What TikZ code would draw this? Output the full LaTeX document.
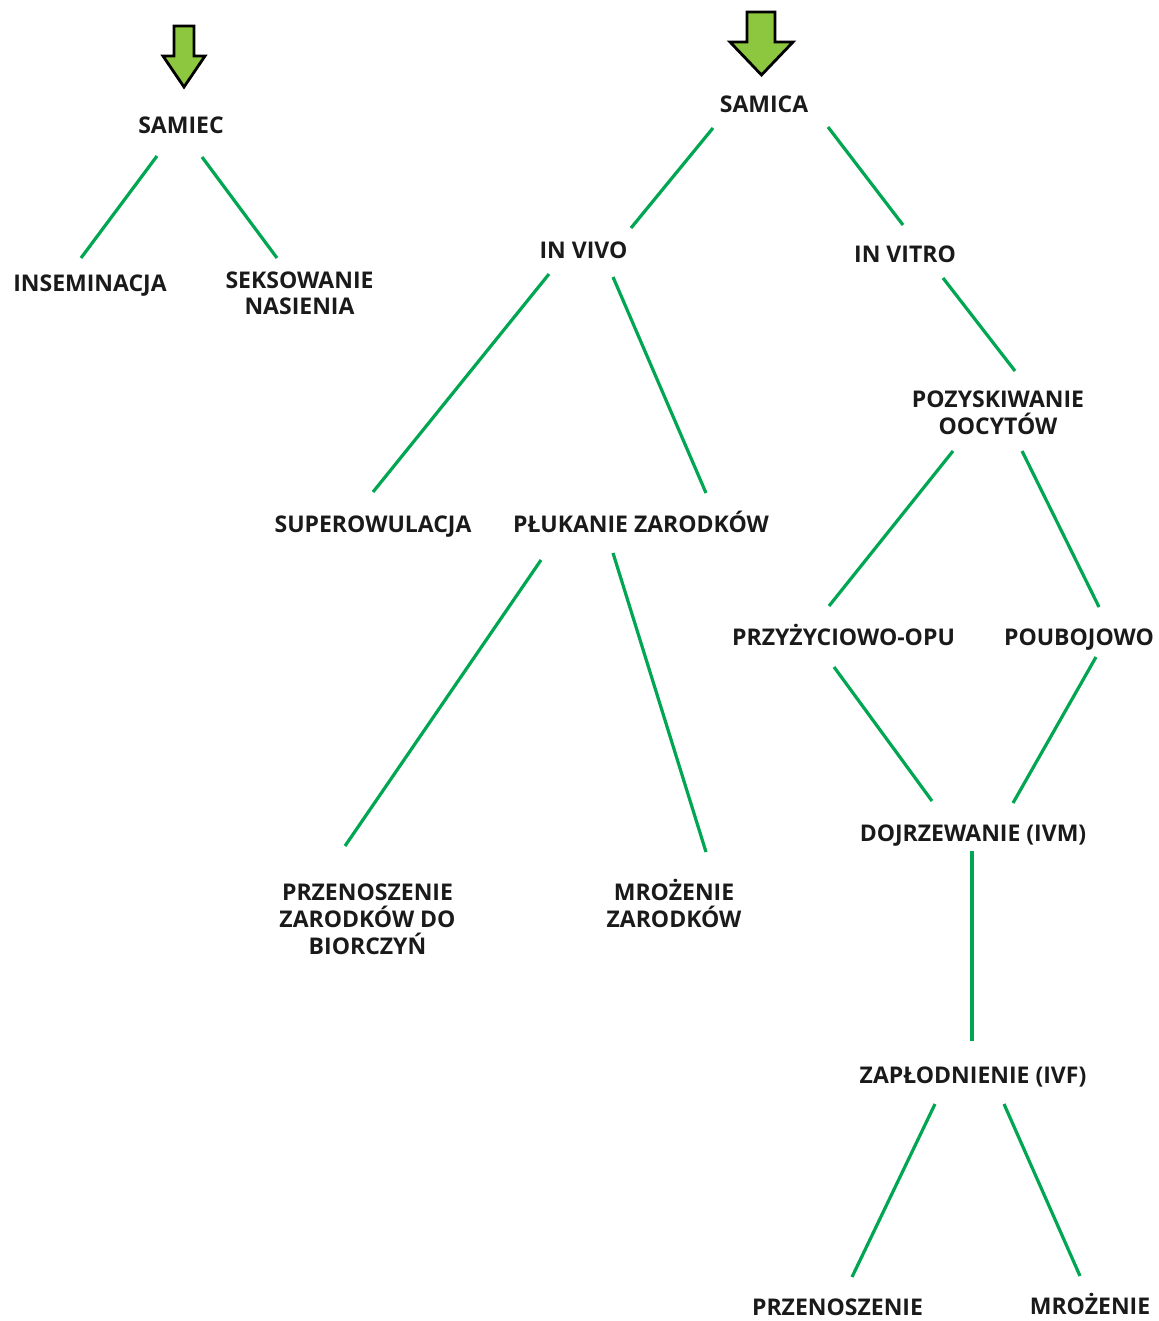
\documentclass[tikz,border=0pt]{standalone}
\usepackage{fontspec}
\setmainfont{Open Sans}
\usepackage{tikz}
\usetikzlibrary{calc}

\definecolor{linegreen}{HTML}{00A651}
\definecolor{arrowgreen}{HTML}{8DC63F}
\definecolor{txt}{HTML}{1A1A1A}

\begin{document}
\begin{tikzpicture}[
        x=1pt, y=-1pt,
        lbl/.style={inner sep=0pt, anchor=base, align=center, text=txt,
            font=\fontsize{23}{27}\selectfont\bfseries},
        link/.style={draw=linegreen, line width=3.2pt},
        pointer/.style={draw=black, fill=arrowgreen, line width=2.8pt, line join=miter}
    ]
        \useasboundingbox (0,0) rectangle (1158,1321);

        % entry arrows
        \draw[pointer] (174,26) -- (194,26) -- (194,56) -- (205,56) -- (184,87) -- (163,56) -- (174,56) -- cycle;
        \draw[pointer] (747,12) -- (775,12) -- (775,42) -- (793,42) -- (761.5,75) -- (730,42) -- (747,42) -- cycle;

        \node[lbl] (samiec) at (181,134) {SAMIEC};
        \node[lbl] (insem) at (90,291) {INSEMINACJA};
        \node[lbl] (seks) at (299.5,315) {SEKSOWANIE\\NASIENIA};

        \node[lbl] (samica) at (764,113) {SAMICA};
        \node[lbl] (invivo) at (583.5,259) {IN VIVO};
        \node[lbl] (invitro) at (905,263) {IN VITRO};
        \node[lbl] (superow) at (373,532) {SUPEROWULACJA};
        \node[lbl] (plukanie) at (641,532) {PŁUKANIE ZARODKÓW};
        \node[lbl] (przen) at (367.5,954) {PRZENOSZENIE\\ZARODKÓW DO\\BIORCZYŃ};
        \node[lbl] (mroz) at (674,927) {MROŻENIE\\ZARODKÓW};

        \node[lbl] (pozysk) at (998,434) {POZYSKIWANIE\\OOCYTÓW};
        \node[lbl] (przyz) at (843.5,645) {PRZYŻYCIOWO-OPU};
        \node[lbl] (pouboj) at (1079,645) {POUBOJOWO};
        \node[lbl] (dojrz) at (973,841) {DOJRZEWANIE (IVM)};
        \node[lbl] (zapl) at (973,1083) {ZAPŁODNIENIE (IVF)};
        \node[lbl] (przen2) at (837.5,1315) {PRZENOSZENIE};
        \node[lbl] (mroz2) at (1090,1314) {MROŻENIE};

        \draw[link] ($(samiec.base)+(-24,22)$) -- ($(insem.base)+(-9,-33)$);
        \draw[link] ($(samiec.base)+(21,23)$) -- ($(seks.base)+(-22.5,-57)$);
        \draw[link] ($(samica.base)+(-51,15)$) -- ($(invivo.base)+(47.5,-31)$);
        \draw[link] ($(samica.base)+(64,14)$) -- ($(invitro.base)+(-2,-38)$);
        \draw[link] ($(invivo.base)+(-34.5,15)$) -- ($(superow.base)+(0,-40)$);
        \draw[link] ($(invivo.base)+(29.5,18)$) -- ($(plukanie.base)+(65,-39)$);
        \draw[link] ($(plukanie.base)+(-100,28)$) -- ($(przen.base)+(-22.5,-108)$);
        \draw[link] ($(plukanie.base)+(-28,21)$) -- ($(mroz.base)+(32,-75)$);
        \draw[link] ($(invitro.base)+(38,15)$) -- ($(pozysk.base)+(17,-63)$);
        \draw[link] ($(pozysk.base)+(-45,17)$) -- ($(przyz.base)+(-14.5,-39)$);
        \draw[link] ($(pozysk.base)+(24,17)$) -- ($(pouboj.base)+(20,-38)$);
        \draw[link] ($(przyz.base)+(-9.5,22)$) -- ($(dojrz.base)+(-41,-40)$);
        \draw[link] ($(pouboj.base)+(17,12)$) -- ($(dojrz.base)+(40,-38)$);
        \draw[link] ($(dojrz.base)+(-1,10)$) -- ($(zapl.base)+(-1,-42)$);
        \draw[link] ($(zapl.base)+(-38,21)$) -- ($(przen2.base)+(14.5,-38)$);
        \draw[link] ($(zapl.base)+(31,21)$) -- ($(mroz2.base)+(-10,-38)$);
    \end{tikzpicture}
\end{document}
